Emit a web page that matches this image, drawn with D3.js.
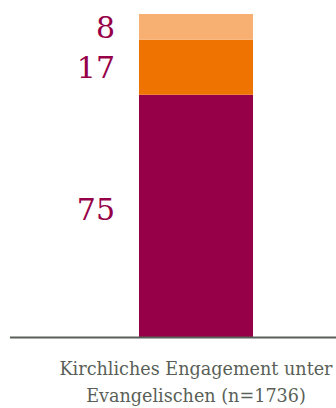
<!DOCTYPE html>
<html><head><meta charset="utf-8">
<script src="https://cdn.jsdelivr.net/npm/d3@7"></script>
<style>body{margin:0;background:#fff}svg{display:block}</style>
</head><body>
<svg id="c" width="336" height="408"></svg>
<script>
const categories = ["Kirchliches Engagement unter Evangelischen (n=1736)"];
const categoryLines = [["Kirchliches Engagement unter", "Evangelischen (n=1736)"]];
const seriesNames = ["a", "b", "c"];
const seriesValues = [[75], [17], [8]];
const colors = ["#960048", "#ef7300", "#f8b072"];
const labelShift = [-7, 0, 0];

const svg = d3.select("#c");
const y = d3.scaleLinear().domain([0, 100]).range([337, 14]);
const x = d3.scaleBand().domain(categories).range([139, 253]).padding(0);

const table = categories.map((c, i) => {
  const o = {cat: c};
  seriesNames.forEach((s, j) => o[s] = seriesValues[j][i]);
  return o;
});
const stack = d3.stack().keys(seriesNames)(table);

stack.forEach((layer, j) => {
  svg.append("g").selectAll("rect").data(layer).join("rect")
    .attr("x", d => x(d.data.cat))
    .attr("width", x.bandwidth())
    .attr("y", d => y(d[1]))
    .attr("height", d => y(d[0]) - y(d[1]))
    .attr("fill", colors[j]);
  svg.append("g").selectAll("text").data(layer).join("text")
    .attr("x", 115)
    .attr("y", d => (y(d[0]) + y(d[1])) / 2 + 11 + labelShift[j])
    .attr("text-anchor", "end")
    .attr("font-family", "DejaVu Serif, serif")
    .attr("font-size", 30)
    .attr("fill", "#960048")
    .text(d => d[1] - d[0]);
});

svg.append("line").attr("x1", 10).attr("x2", 336)
  .attr("y1", y(0) + 0.5).attr("y2", y(0) + 0.5)
  .attr("stroke", "#5a5f58").attr("stroke-width", 2);

categories.forEach((c, i) => {
  const t = svg.append("text")
    .attr("x", x(c) + x.bandwidth() / 2)
    .attr("text-anchor", "middle")
    .attr("font-family", "DejaVu Serif, serif")
    .attr("font-size", 17.6)
    .attr("fill", "#5a5f58");
  categoryLines[i].forEach((l, k) => {
    t.append("tspan").attr("x", x(c) + x.bandwidth() / 2).attr("y", 375 + k * 27).text(l);
  });
});
</script>
</body></html>
